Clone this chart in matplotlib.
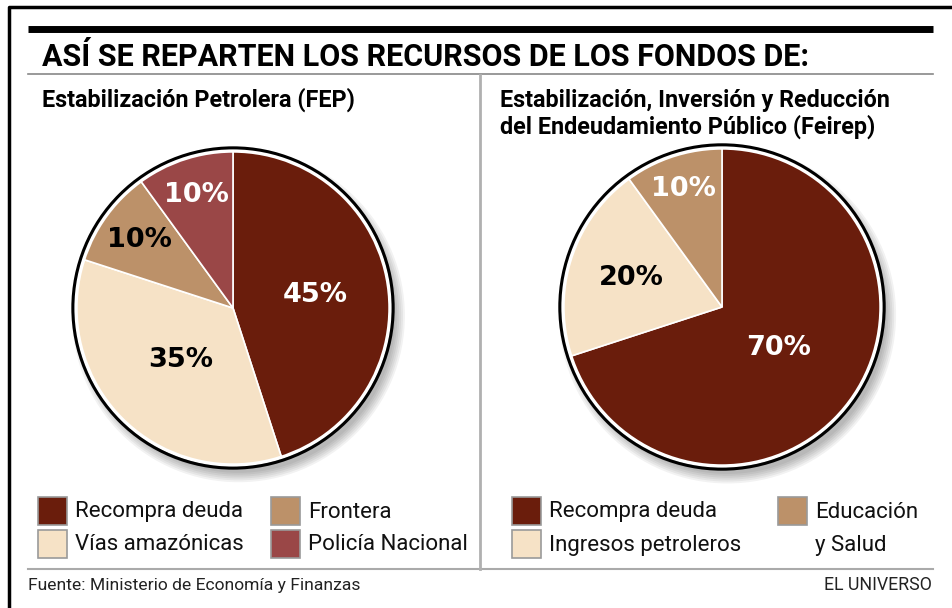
import numpy as np
import matplotlib.pyplot as plt
from matplotlib.patches import Rectangle, Circle

# Datos
fep_labels = ["Recompra deuda", "Vías amazónicas", "Frontera", "Policía Nacional"]
fep_values = [45, 35, 10, 10]
feirep_labels = ["Recompra deuda", "Ingresos petroleros", "Educación\ny Salud"]
feirep_values = [70, 20, 10]

oscuro = "#6a1d0c"
crema = "#f6e2c6"
tostado = "#bc9169"
rosa = "#9a4747"
fep_colors = [oscuro, crema, tostado, rosa]
feirep_colors = [oscuro, crema, tostado]

titulo = "ASÍ SE REPARTEN LOS RECURSOS DE LOS FONDOS DE:"
sub_fep = "Estabilización Petrolera (FEP)"
sub_feirep = ["Estabilización, Inversión y Reducción", "del Endeudamiento Público (Feirep)"]
fuente = "Fuente: Ministerio de Economía y Finanzas"
firma = "EL UNIVERSO"

FAM = ["Roboto", "DejaVu Sans"]
W, H = 953, 608

fig = plt.figure(figsize=(W / 100, H / 100), dpi=100)
fig.patch.set_facecolor("white")

# eje de fondo en pixeles
ax = fig.add_axes([0, 0, 1, 1])
ax.set_xlim(0, W)
ax.set_ylim(H, 0)
ax.axis("off")

# marco
ax.plot([9, 9, W], [H, 7, 7], color="black", lw=2.5, solid_capstyle="butt")
# regla gruesa y lineas grises
ax.plot([28, 933], [28.5, 28.5], color="black", lw=5, solid_capstyle="butt")
ax.plot([28, 933], [74, 74], color="#888888", lw=1.2)
ax.plot([28, 933], [569, 569], color="#aaaaaa", lw=1.5)
ax.plot([480, 480], [75, 569], color="#b0b0b0", lw=2)

ax.text(42, 66, titulo, family=FAM, weight="bold", fontsize=22, va="baseline", ha="left")
ax.text(42, 107, sub_fep, family=FAM, weight="bold", fontsize=16.8, va="baseline", ha="left")
for i, linea in enumerate(sub_feirep):
    ax.text(500, 107 + 27 * i, linea, family=FAM, weight="bold", fontsize=16.8,
            va="baseline", ha="left")
ax.text(28, 590, fuente, family=FAM, fontsize=12.6, va="baseline", ha="left", color="#222222")
ax.text(932, 590, firma, family=FAM, fontsize=12.8, va="baseline", ha="right", color="#222222")


def dibujar_pie(cx, cy, r, values, colors, radios, txt_colors):
    pad = 1.15
    a = fig.add_axes([(cx - r * pad) / W, (H - cy - r * pad) / H, 2 * r * pad / W, 2 * r * pad / H])
    # sombra suave
    for k in range(6):
        a.add_patch(Circle((0.035, -0.05), 1.0 + 0.012 * k, color="black", alpha=0.05, lw=0))
    wedges, _ = a.pie(values, colors=colors, startangle=90, counterclock=False,
                      wedgeprops=dict(edgecolor="white", linewidth=1.2))
    a.add_patch(Circle((0, 0), 1.0, fill=False, edgecolor="white", lw=2.5))
    a.add_patch(Circle((0, 0), 1.02, fill=False, edgecolor="black", lw=2.2))
    for w, v, rr, tc in zip(wedges, values, radios, txt_colors):
        ang = np.deg2rad((w.theta1 + w.theta2) / 2)
        a.text(rr * np.cos(ang), rr * np.sin(ang), f"{v}%", ha="center", va="center",
               fontsize=19.5, weight="bold", color=tc, family="DejaVu Sans")
    a.set_xlim(-pad, pad)
    a.set_ylim(-pad, pad)
    a.set_aspect("equal")
    a.axis("off")


dibujar_pie(233, 308, 157, fep_values, fep_colors,
            [0.53, 0.47, 0.74, 0.76], ["white", "black", "black", "white"])
dibujar_pie(722, 307, 159, feirep_values, feirep_colors,
            [0.44, 0.6, 0.78], ["white", "black", "white"])


def leyenda(items, colors, pos):
    for lab, col, (x, y) in zip(items, colors, pos):
        ax.add_patch(Rectangle((x, y), 29, 28, facecolor=col, edgecolor="#9a9a9a", lw=1.2))
        for j, linea in enumerate(lab.split("\n")):
            ax.text(x + 37, y + 15 + 33 * j, linea, family=FAM, fontsize=16, va="center",
                    ha="left", color="#111111")


leyenda(fep_labels, fep_colors, [(38, 497), (38, 530), (271, 497), (271, 530)])
leyenda(feirep_labels, feirep_colors, [(512, 497), (512, 530), (778, 497)])

fig.savefig("out.png", dpi=100, facecolor="white")
